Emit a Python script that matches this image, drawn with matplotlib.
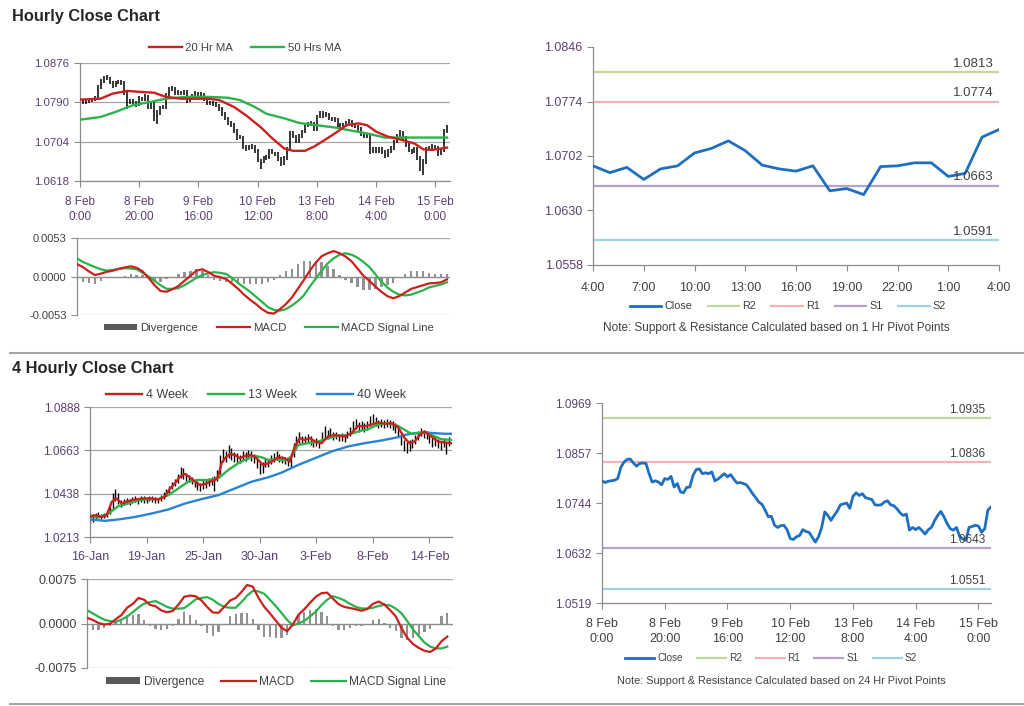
import numpy as np
import matplotlib.pyplot as plt
from matplotlib.lines import Line2D
from matplotlib.patches import Patch

plt.rcParams['font.family'] = ['Liberation Sans', 'DejaVu Sans']

# ---- hourly EUR/USD (values in pips above 1.0000) ----
close_1h_pips = [794, 790, 793, 794, 795, 799, 824, 836, 842, 843,
                 834, 827, 833, 834, 833, 810, 791, 794, 791, 785,
                 799, 797, 804, 780, 788, 769, 767, 779, 780, 806,
                 819, 821, 810, 812, 810, 814, 794, 798, 804, 810,
                 803, 808, 798, 789, 790, 788, 785, 776, 765, 756,
                 746, 741, 728, 713, 714, 694, 689, 693, 694, 684,
                 664, 662, 668, 671, 684, 680, 678, 667, 656, 668,
                 688, 724, 716, 705, 716, 726, 740, 742, 744, 732,
                 759, 767, 761, 765, 756, 754, 752, 740, 739, 740,
                 746, 749, 740, 738, 731, 722, 716, 719, 683, 689,
                 684, 689, 682, 674, 684, 689, 704, 716, 725, 713,
                 698, 686, 683, 689, 669, 663, 660, 689, 691, 694,
                 692, 678, 686, 728, 735]
high_1h_pips = [800, 797, 796, 798, 799, 803, 828, 840, 847, 849,
                846, 837, 837, 839, 838, 836, 814, 798, 797, 794,
                803, 802, 808, 806, 792, 790, 773, 783, 785, 810,
                823, 826, 824, 816, 815, 818, 817, 802, 808, 815,
                813, 812, 810, 800, 794, 793, 790, 787, 779, 768,
                758, 749, 744, 731, 719, 717, 697, 697, 698, 697,
                687, 667, 672, 675, 688, 687, 682, 681, 670, 672,
                692, 728, 727, 719, 720, 730, 744, 747, 749, 747,
                763, 772, 770, 769, 767, 759, 757, 755, 744, 745,
                750, 753, 752, 743, 741, 735, 725, 722, 722, 693,
                692, 693, 692, 685, 688, 694, 708, 720, 729, 728,
                717, 702, 689, 693, 692, 672, 666, 693, 695, 698,
                697, 695, 690, 732, 741]
low_1h_pips = [788, 786, 787, 789, 790, 793, 796, 820, 832, 838,
               829, 822, 824, 829, 828, 805, 776, 787, 786, 780,
               781, 792, 793, 775, 776, 750, 742, 763, 775, 776,
               802, 815, 805, 806, 805, 806, 789, 790, 795, 800,
               798, 799, 793, 784, 785, 783, 780, 771, 760, 751,
               741, 736, 723, 708, 709, 689, 684, 685, 688, 679,
               659, 645, 658, 664, 667, 676, 673, 662, 651, 652,
               663, 684, 711, 700, 701, 711, 722, 736, 738, 727,
               728, 755, 756, 757, 751, 749, 747, 735, 734, 735,
               736, 742, 735, 733, 726, 717, 711, 712, 678, 679,
               679, 680, 677, 669, 670, 680, 685, 700, 712, 708,
               693, 681, 678, 679, 663, 640, 632, 656, 685, 687,
               687, 673, 674, 681, 724]

ma20_x = [0, 7, 11, 16, 20, 25, 29, 34, 38, 43, 47, 52, 56, 61, 65, 69,
          72, 76, 79, 83, 87, 90, 94, 97, 100, 104, 108, 113, 116, 119, 124]
ma20_pips = [796, 798, 809, 815, 813, 811, 802, 798, 798, 798, 795, 780,
             762, 736, 711, 689, 684, 684, 693, 709, 726, 740, 744, 740,
             726, 715, 709, 700, 687, 686, 691]
ma50_x = [0, 7, 12, 18, 24, 29, 36, 43, 50, 54, 59, 63, 69, 74, 80, 86,
          91, 97, 103, 108, 114, 119, 124]
ma50_pips = [752, 758, 769, 784, 791, 798, 802, 802, 800, 795, 780, 765,
             755, 745, 740, 735, 729, 722, 713, 713, 713, 713, 713]

# MACD hourly, every 2nd bar, in units of 0.0001
macd_1h = [17, 13, 7, 2, 4, 6.5, 8, 10.5, 12.5, 14,
           12, 7, -2, -12, -20, -21, -17.5, -13, -6, 1,
           8, 10, 6, 1, -1, -3.5, -10, -17, -25, -32,
           -38, -45, -50, -51, -45, -38, -29, -17, -5, 8,
           19, 28, 32, 35, 32, 27.5, 21, 11, 1, -6,
           -14, -21, -27, -30, -27, -22, -17, -14.5, -12, -9.5,
           -9, -8, -4]
signal_1h = [25, 20, 16.5, 13, 10, 8, 9, 10.5, 11.5, 11,
             10, 5, 0, -6, -12, -17, -17, -16, -12, -7,
             -2, 2, 4.5, 6, 5, 3.5, -2, -9, -15, -21,
             -28, -35, -42, -46, -47, -45, -40, -34, -26, -14,
             -3, 8, 18, 25, 30, 32, 30, 26, 20, 13,
             3, -7, -15, -21, -25, -26, -25, -22, -19, -15,
             -13, -11, -8]

hourly_labels = ['8 Feb\n0:00', '8 Feb\n20:00', '9 Feb\n16:00', '10 Feb\n12:00',
                 '13 Feb\n8:00', '14 Feb\n4:00', '15 Feb\n0:00']

# last 24 hours close
close_24h_pips = [689, 680, 687, 671, 685, 689, 706, 712, 722, 709, 690, 685,
                  682, 689, 656, 659, 651, 688, 689, 693, 693, 675, 679, 727, 737]
hour_labels = ['4:00', '7:00', '10:00', '13:00', '16:00', '19:00', '22:00', '1:00', '4:00']

pivots_1h = [1.0813, 1.0774, 1.0663, 1.0591]    # R2, R1, S1, S2
pivots_24h = [1.0935, 1.0836, 1.0643, 1.0551]

# ---- 4 hourly ----
high_4h_pips = [335, 330, 340, 345, 335, 340, 345, 370, 440, 460,
                440, 405, 410, 418, 410, 420, 425, 418, 428, 425,
                420, 428, 425, 422, 418, 430, 445, 462, 478, 498,
                512, 540, 578, 570, 545, 535, 525, 515, 505, 495,
                510, 515, 520, 525, 530, 560, 640, 670, 660, 690,
                675, 655, 650, 640, 660, 655, 665, 660, 645, 630,
                605, 600, 620, 615, 640, 650, 660, 645, 635, 630,
                625, 640, 700, 740, 760, 740, 740, 750, 735, 720,
                725, 715, 760, 790, 770, 780, 760, 760, 750, 755,
                750, 765, 785, 815, 825, 810, 815, 805, 815, 840,
                850, 835, 820, 825, 822, 825, 820, 815, 805, 785,
                750, 715, 705, 715, 720, 745, 765, 780, 770, 765,
                750, 728, 730, 722, 712, 725, 705, 730]
low_4h_pips = [280, 290, 300, 315, 305, 312, 318, 330, 360, 400,
               385, 370, 378, 385, 380, 388, 395, 385, 395, 392,
               390, 398, 395, 392, 390, 400, 410, 425, 440, 462,
               478, 495, 520, 515, 505, 498, 488, 475, 455, 450,
               462, 470, 480, 485, 450, 505, 540, 600, 600, 625,
               615, 605, 600, 595, 615, 610, 620, 610, 595, 570,
               540, 545, 575, 575, 590, 605, 615, 600, 595, 590,
               580, 575, 630, 670, 700, 695, 700, 705, 690, 680,
               685, 675, 700, 725, 720, 730, 715, 720, 710, 712,
               708, 725, 740, 760, 775, 760, 768, 760, 770, 790,
               800, 790, 780, 785, 780, 785, 778, 770, 755, 730,
               690, 660, 650, 660, 675, 695, 715, 735, 725, 720,
               700, 680, 688, 675, 665, 680, 645, 685]

ma4w_x = [0, 1.8, 4.1, 5.9, 7.7, 9.4, 11.2, 12.9, 14.7, 17.1, 19.4, 21.8,
          24.1, 26.5, 28.3, 30, 31.8, 33.6, 35.3, 37.1, 38.9, 40.6, 42.4,
          44.2, 45.3, 46.5, 47.7, 49.5, 51.2, 53, 54.8, 56.5, 58.3, 59.5,
          61.2, 63, 64.2, 66.5, 68.9, 70.6, 72.4, 74.2, 75.9, 77.7, 79.5,
          81.8, 84.2, 86.5, 88.3, 90.1, 92.4, 94.8, 97.1, 99.5, 101.8,
          104.2, 106.6, 108.9, 111.3, 113, 114.8, 116.6, 118.3, 120.7,
          123, 125.4, 127.8]
ma4w_pips = [317, 326, 317, 326, 396, 413, 387, 396, 404, 410, 413, 413,
             408, 422, 465, 491, 526, 540, 523, 500, 483, 488, 500, 509,
             526, 596, 622, 644, 639, 622, 634, 639, 630, 613, 587, 596,
             604, 627, 622, 604, 683, 726, 717, 726, 709, 700, 735, 743,
             738, 735, 752, 790, 787, 796, 808, 801, 804, 783, 726, 700,
             709, 743, 761, 735, 709, 704, 700]
ma13w_x = [0, 2.9, 6.5, 10, 13.5, 17.1, 20.6, 24.1, 27.7, 31.2, 34.7, 38.3,
           41.8, 45.3, 48.9, 52.4, 55.9, 58.3, 60.7, 63, 65.3, 68.9, 71.2,
           73.6, 77.1, 80.6, 84.2, 87.7, 91.2, 94.8, 98.3, 101.8, 105.4,
           108.9, 111.3, 113.6, 116, 118.3, 120.7, 124.2, 127.8]
ma13w_pips = [326, 314, 335, 373, 387, 404, 410, 410, 430, 465, 500, 509,
              509, 517, 561, 596, 622, 634, 627, 613, 617, 610, 630, 691,
              700, 709, 726, 738, 743, 761, 773, 796, 804, 790, 769, 749,
              752, 756, 743, 721, 717]
ma40w_x = [0, 5.3, 10, 15.9, 21.8, 27.7, 33.6, 39.5, 45.3, 51.2, 57.1, 63,
           65.4, 67.7, 73.6, 79.5, 85.4, 91.2, 97.1, 103, 108.9, 111.3,
           114.8, 118.3, 121.9, 125.4, 127.8]
ma40w_pips = [304, 297, 304, 317, 335, 356, 387, 410, 430, 465, 500, 523,
              535, 547, 587, 622, 657, 683, 700, 714, 731, 743, 752, 756,
              752, 749, 749]

macd_4h = [9.6, 6, 1, -1.7, -0.5, 7, 14, 26.5, 33, 43,
           40, 31.5, 29, 22, 19, 21, 32, 45, 47, 46,
           39, 28, 18.5, 18, 28, 38.5, 43, 53, 65, 62,
           43, 28, 17, 5, -7, -13, -1.5, 15, 24, 35,
           45, 51, 52, 42, 32.5, 28, 26, 24, 21.5, 24.5,
           33, 37, 32, 22.5, 12, -8, -24, -34.5, -41, -46,
           -48, -42, -30, -22]
signal_4h = [22.6, 17, 11.5, 6.5, 4, 2.5, 6.5, 11.5, 19, 27,
             33.5, 36, 37.8, 33, 28, 25, 25, 26, 33, 40.6,
             43, 44.5, 40, 33, 28, 26.5, 26.5, 36, 47, 55,
             54, 50, 40, 29.5, 18, 6, -3, 0, 4.5, 12,
             20, 31, 40, 46, 43, 39, 33, 28, 25.5, 25,
             26.5, 29.5, 31.5, 30.5, 25, 17, 4, -10, -21, -32,
             -39, -42, -42, -39]
four_hourly_labels = ['16-Jan', '19-Jan', '25-Jan', '30-Jan', '3-Feb', '8-Feb', '14-Feb']


def price(p):
    return 1 + np.asarray(p) / 1e4


RED = '#c9211e'
GREEN = '#2bb24c'
BLUE = '#1f6fbf'
BLUE40 = '#2b82d4'
GRAY = '#a6a6a6'
PURPLE = '#5b4170'
DARK = '#404040'
PIVOT_COLORS = ['#c4d79b', '#f0b4b4', '#b5a3cf', '#9dd3e3']

W, H = 1024, 706
fig = plt.figure(figsize=(W / 100, H / 100), dpi=100)


def box(l, t, r, b):
    return [l / W, 1 - b / H, (r - l) / W, (b - t) / H]


def fxy(x, y):
    return (x / W, 1 - y / H)


def style(ax, fs, grid=True, labelcolor=PURPLE):
    for s in ['top', 'right']:
        ax.spines[s].set_visible(False)
    for s in ['left', 'bottom']:
        ax.spines[s].set_color('#8c8c8c')
        ax.spines[s].set_linewidth(0.9)
    ax.tick_params(colors='#8c8c8c', labelcolor=labelcolor, labelsize=fs,
                   length=4, width=0.8)
    if grid:
        ax.grid(axis='y', color=GRAY, lw=0.9)
        ax.set_axisbelow(True)


def leg(handles, labels, x, y, fs=7.5, spacing=1.6):
    fig.legend(handles, labels, loc='center', bbox_to_anchor=fxy(x, y),
               ncol=len(handles), frameon=False, fontsize=fs,
               handlelength=2.9, handleheight=0.5, handletextpad=0.3,
               columnspacing=spacing, labelcolor=DARK)


def macd_panel(rect, macd, sig, lim, ylabels, xmax, fs):
    ax = fig.add_axes(rect)
    style(ax, fs, labelcolor=DARK)
    x = np.arange(0, 2 * len(macd), 2)
    m = np.array(macd) / 1e4
    s = np.array(sig) / 1e4
    ax.bar(x, m - s, width=0.8, color='#929292', zorder=2)
    ax.plot(x, m, color=RED, lw=1.6, zorder=4)
    ax.plot(x, s, color=GREEN, lw=1.6, zorder=3)
    ax.axhline(0, color='#8c8c8c', lw=0.9, zorder=1)
    ax.set_ylim(-lim, lim)
    ax.set_yticks([-lim, 0, lim])
    ax.set_yticklabels(ylabels)
    ax.set_xlim(0, xmax)
    ax.set_xticks([])
    ax.spines['bottom'].set_visible(False)
    return ax


def pivot_panel(rect, x, close, pivots, yticks, ylabels, fs, pfs):
    ax = fig.add_axes(rect)
    style(ax, fs, grid=False)
    for lvl, c in zip(pivots, PIVOT_COLORS):
        ax.axhline(lvl, color=c, lw=1.6, zorder=2)
    ax.plot(x, close, color=BLUE, lw=2, zorder=3)
    for lvl in pivots:
        ax.annotate(f'{lvl:.4f}', xy=(1, lvl), xycoords=('axes fraction', 'data'),
                    xytext=(-4, 1.5), textcoords='offset points', ha='right',
                    va='bottom', fontsize=pfs, color=DARK, zorder=5)
    ax.set_ylim(yticks[0], yticks[-1])
    ax.set_yticks(yticks)
    ax.set_yticklabels(ylabels)
    return ax


# ================= Hourly close chart =================
fig.text(12 / W, 1 - 16 / H, 'Hourly Close Chart', fontsize=11.8,
         fontweight='bold', color='#262626', va='center')

ax1 = fig.add_axes(box(80, 63, 450, 181))
style(ax1, 8.2)
x1 = np.arange(len(close_1h_pips))
ax1.vlines(x1, price(low_1h_pips), price(high_1h_pips), color='black', lw=1.1, zorder=2)
ax1.plot(ma50_x, price(ma50_pips), color=GREEN, lw=1.7, zorder=3)
ax1.plot(ma20_x, price(ma20_pips), color=RED, lw=1.7, zorder=4)
yt1 = np.linspace(1.0618, 1.0876, 4)
ax1.set_ylim(yt1[0], yt1[-1])
ax1.set_yticks(yt1)
ax1.set_yticklabels(['1.0618', '1.0704', '1.0790', '1.0876'])
ax1.set_xlim(0, 125)
ax1.set_xticks(np.arange(0, 121, 20))
ax1.set_xticklabels(hourly_labels, linespacing=1.3)
ax1.tick_params(axis='x', pad=7, labelsize=8.5)
leg([Line2D([], [], color=RED, lw=1.7), Line2D([], [], color=GREEN, lw=1.7)],
    ['20 Hr MA', '50 Hrs MA'], 245, 48, fs=8.2)

macd_panel(box(77, 238, 450, 315), macd_1h, signal_1h, 0.0053,
           ['-0.0053', '0.0000', '0.0053'], 125, 8)
leg([Patch(facecolor='#595959'), Line2D([], [], color=RED, lw=1.6),
     Line2D([], [], color=GREEN, lw=1.6)],
    ['Divergence', 'MACD', 'MACD Signal Line'], 269, 328, fs=8.2)

ax2 = pivot_panel(box(593, 47, 999, 265), np.arange(len(close_24h_pips)),
                  price(close_24h_pips), pivots_1h,
                  np.linspace(1.0558, 1.0846, 5),
                  ['1.0558', '1.0630', '1.0702', '1.0774', '1.0846'], 9, 9.5)
ax2.set_xlim(0, 24)
ax2.set_xticks(np.arange(0, 25, 3))
ax2.set_xticklabels(hour_labels)
ax2.tick_params(axis='x', labelcolor=DARK, pad=8)
pv_handles = [Line2D([], [], color=BLUE, lw=2)] + \
             [Line2D([], [], color=c, lw=1.6) for c in PIVOT_COLORS]
pv_labels = ['Close', 'R2', 'R1', 'S1', 'S2']
leg(pv_handles, pv_labels, 788, 306, fs=7.8, spacing=1.4)
fig.text(776 / W, 1 - 328 / H,
         'Note: Support & Resistance Calculated based on 1 Hr Pivot Points',
         ha='center', va='center', fontsize=8.5, color=DARK)

fig.add_artist(Line2D([10 / W, 1], [1 - 353 / H] * 2, color=GRAY, lw=1.5))

# ================= 4 Hourly close chart =================
fig.text(12 / W, 1 - 369 / H, '4 Hourly Close Chart', fontsize=11.8,
         fontweight='bold', color='#262626', va='center')

ax3 = fig.add_axes(box(90, 407, 452, 537))
style(ax3, 8.5)
x4 = np.arange(len(high_4h_pips))
ax3.vlines(x4, price(low_4h_pips), price(high_4h_pips), color='black', lw=1.0, zorder=2)
ax3.plot(ma40w_x, price(ma40w_pips), color=BLUE40, lw=1.7, zorder=3)
ax3.plot(ma13w_x, price(ma13w_pips), color=GREEN, lw=1.7, zorder=4)
ax3.plot(ma4w_x, price(ma4w_pips), color=RED, lw=1.7, zorder=5)
yt3 = np.linspace(1.0213, 1.0888, 4)
ax3.set_ylim(yt3[0], yt3[-1])
ax3.set_yticks(yt3)
ax3.set_yticklabels(['1.0213', '1.0438', '1.0663', '1.0888'])
ax3.set_xlim(0, 128)
ax3.set_xticks(np.arange(0, 121, 20))
ax3.set_xticklabels(four_hourly_labels)
ax3.tick_params(axis='x', labelsize=9, pad=6)
leg([Line2D([], [], color=RED, lw=1.7), Line2D([], [], color=GREEN, lw=1.7),
     Line2D([], [], color=BLUE40, lw=1.7)],
    ['4 Week', '13 Week', '40 Week'], 256, 395, fs=9)

macd_panel(box(87, 579, 453, 668), macd_4h, signal_4h, 0.0075,
           ['-0.0075', '0.0000', '0.0075'], 128, 9)
leg([Patch(facecolor='#595959'), Line2D([], [], color=RED, lw=1.6),
     Line2D([], [], color=GREEN, lw=1.6)],
    ['Divergence', 'MACD', 'MACD Signal Line'], 276, 682, fs=8.6, spacing=1.4)

ax4 = pivot_panel(box(602, 403, 991, 603), x1, price(close_1h_pips), pivots_24h,
                  np.linspace(1.0519, 1.0969, 5),
                  ['1.0519', '1.0632', '1.0744', '1.0857', '1.0969'], 8.5, 8.5)
ax4.set_xlim(0, 124)
ax4.set_xticks(np.arange(0, 121, 20))
ax4.set_xticklabels(hourly_labels, linespacing=1.3)
ax4.tick_params(axis='x', labelcolor=DARK, pad=7, labelsize=9)
leg(pv_handles, pv_labels, 771, 658, fs=7.2, spacing=1.4)
fig.text(781 / W, 1 - 681 / H,
         'Note: Support & Resistance Calculated based on 24 Hr Pivot Points',
         ha='center', va='center', fontsize=7.8, color=DARK)

fig.add_artist(Line2D([10 / W, 1], [1 - 704 / H] * 2, color=GRAY, lw=1.5))

fig.savefig('out.png', dpi=100)
